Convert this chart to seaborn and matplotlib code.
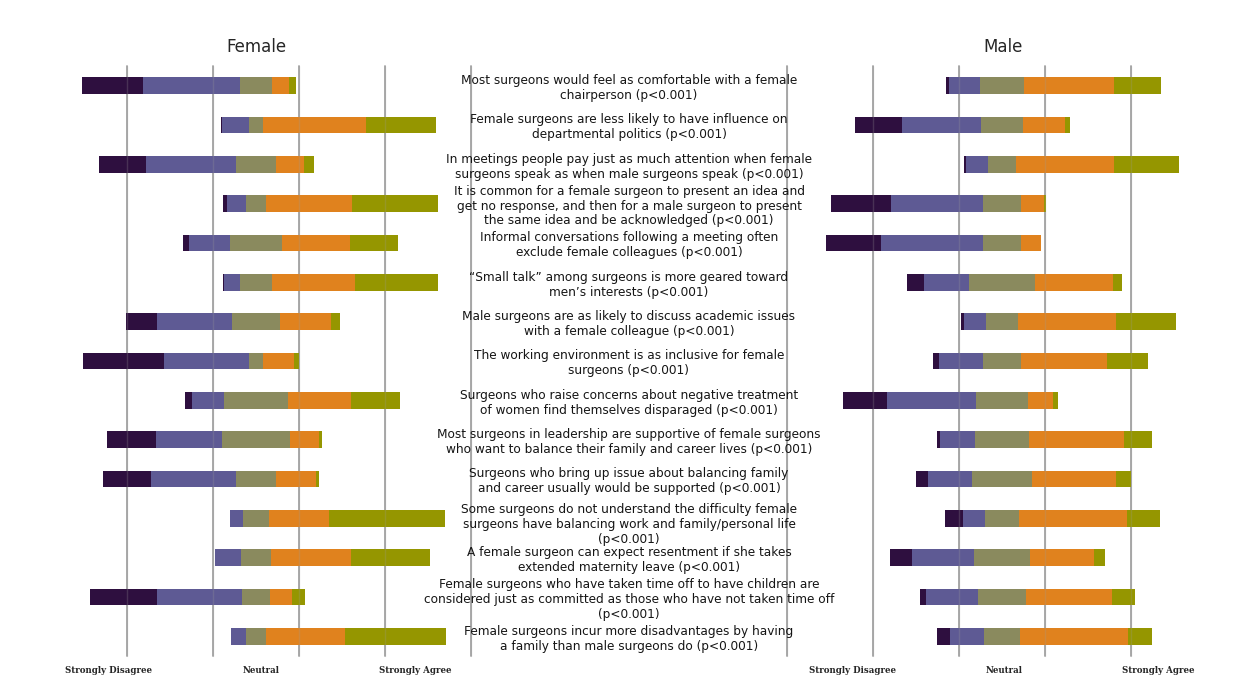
import numpy as np
import pandas as pd
import seaborn as sns
import matplotlib.pyplot as plt
from matplotlib.transforms import blended_transform_factory

### Survey statements (same order top -> bottom in both panels)
questions = [
    "Most surgeons would feel as comfortable with a female\nchairperson (p<0.001)",
    "Female surgeons are less likely to have influence on\ndepartmental politics (p<0.001)",
    "In meetings people pay just as much attention when female\nsurgeons speak as when male surgeons speak (p<0.001)",
    "It is common for a female surgeon to present an idea and\nget no response, and then for a male surgeon to present\nthe same idea and be acknowledged (p<0.001)",
    "Informal conversations following a meeting often\nexclude female colleagues (p<0.001)",
    "\u201cSmall talk\u201d among surgeons is more geared toward\nmen\u2019s interests (p<0.001)",
    "Male surgeons are as likely to discuss academic issues\nwith a female colleague (p<0.001)",
    "The working environment is as inclusive for female\nsurgeons (p<0.001)",
    "Surgeons who raise concerns about negative treatment\nof women find themselves disparaged (p<0.001)",
    "Most surgeons in leadership are supportive of female surgeons\nwho want to balance their family and career lives (p<0.001)",
    "Surgeons who bring up issue about balancing family\nand career usually would be supported (p<0.001)",
    "Some surgeons do not understand the difficulty female\nsurgeons have balancing work and family/personal life\n(p<0.001)",
    "A female surgeon can expect resentment if she takes\nextended maternity leave (p<0.001)",
    "Female surgeons who have taken time off to have children are\nconsidered just as committed as those who have not taken time off\n(p<0.001)",
    "Female surgeons incur more disadvantages by having\na family than male surgeons do (p<0.001)",
]

### Percentages
# Female respondents
f_sd = [28.8, 0.9, 21.5, 1.6, 2.5, 0.8, 14.7, 37.3, 3.0, 22.8, 22.1, 0.0, 0.0, 31.1, 0.0]
f_d  = [45.0, 12.5, 42.1, 8.9, 19.3, 7.4, 34.6, 39.7, 15.1, 30.7, 39.7, 6.2, 12.1, 39.9, 7.0]
f_n  = [14.7, 6.2, 18.5, 9.5, 24.1, 14.7, 22.7, 6.5, 29.6, 31.6, 18.4, 12.1, 14.1, 12.6, 9.0]
f_a  = [8.2, 48.0, 12.9, 39.7, 31.8, 38.5, 23.6, 14.4, 29.6, 13.4, 18.5, 28.0, 37.1, 10.4, 36.9]
f_sa = [3.1, 32.4, 5.0, 40.4, 22.4, 38.6, 4.3, 2.2, 22.7, 1.4, 1.4, 53.7, 36.6, 6.1, 47.1]
# Male respondents
m_sd = [1.4, 21.9, 1.3, 27.7, 25.7, 8.0, 1.2, 2.6, 20.6, 1.2, 5.3, 8.2, 10.2, 3.0, 5.9]
m_d  = [14.1, 36.9, 9.9, 42.8, 47.2, 20.7, 10.3, 20.7, 41.3, 16.4, 20.6, 10.2, 28.7, 24.3, 16.2]
m_n  = [20.7, 19.1, 13.3, 17.8, 17.8, 31.0, 14.8, 17.6, 24.3, 25.1, 27.9, 16.2, 26.4, 21.9, 16.3]
m_a  = [41.8, 19.8, 45.5, 10.6, 9.3, 36.2, 45.6, 39.9, 11.8, 44.2, 39.1, 50.0, 29.8, 40.4, 50.4]
m_sa = [21.9, 2.3, 30.1, 1.1, 0.0, 4.1, 28.0, 19.2, 2.0, 13.1, 7.1, 15.4, 4.8, 10.4, 11.2]

colors = {"sd": "#2e0f3f", "d": "#5e5a94", "n": "#8a8a5e", "a": "#e0821e", "sa": "#959600"}

sns.set_style("white")
plt.rcParams['font.family'] = ['DejaVu Sans']

W, H = 1242, 697
fig = plt.figure(figsize=(W / 100, H / 100), dpi=100)
axF = fig.add_axes([41 / W, 1 - 656 / H, 430 / W, 590 / H])
axM = fig.add_axes([787 / W, 1 - 656 / H, 430 / W, 590 / H])

rows = [str(i) for i in range(len(questions))]


def likert(ax, sd, d, n, a, sa, grid, ticks):
    df = pd.DataFrame({"q": rows, "sd": sd, "d": d, "n": n, "a": a, "sa": sa})
    half = df["n"] / 2
    # right side: largest first, then overlay shorter ones
    layers = [
        (half + df["a"] + df["sa"], "sa"),
        (half + df["a"], "a"),
        (half, "n"),
        (-(half + df["d"] + df["sd"]), "sd"),
        (-(half + df["d"]), "d"),
        (-half, "n"),
    ]
    for vals, key in layers:
        sns.barplot(x=vals.values, y=df["q"], order=rows, orient="y", color=colors[key],
                    saturation=1, width=0.43, linewidth=0, errorbar=None, ax=ax)
    for g in grid:
        ax.axvline(g, color="#a3a3a3", lw=1.3, zorder=0.5, clip_on=False)
        # faint line showing through the bars
        ax.axvline(g, color="#9a9a9a", lw=1.0, alpha=0.25, zorder=5, clip_on=False)
    ax.set_xlim(-100, 100)
    ax.set_ylim(14.5, -0.5)
    ax.set_yticks([])
    ax.set_ylabel("")
    ax.set_xticks(ticks)
    ax.set_xticklabels(["Strongly Disagree", "Neutral", "Strongly Agree"],
                       family="DejaVu Serif", fontweight="bold", fontsize=6.2)
    ax.tick_params(axis="x", length=0, pad=7)
    for s in ax.spines.values():
        s.set_visible(False)


likert(axF, f_sd, f_d, f_n, f_a, f_sa, [-60, -20, 20, 60, 100], [-68.5, 2.2, 74])
likert(axM, m_sd, m_d, m_n, m_a, m_sa, [-100, -60, -20, 20, 60], [-69.5, 1.2, 72.6])

fig.text(256 / W, 1 - 47 / H, "Female", ha="center", va="center", fontsize=12)
fig.text(1003 / W, 1 - 47 / H, "Male", ha="center", va="center", fontsize=12)

# statements in the middle column
trans = blended_transform_factory(fig.transFigure, axF.transData)
for i, q in enumerate(questions):
    dy = 0.16 if i == 11 else 0.06
    fig.text(629 / W, i + dy, q, transform=trans, ha="center", va="center",
             fontsize=8.7, linespacing=1.18, color="#151515")

fig.savefig("out.png", dpi=100)
